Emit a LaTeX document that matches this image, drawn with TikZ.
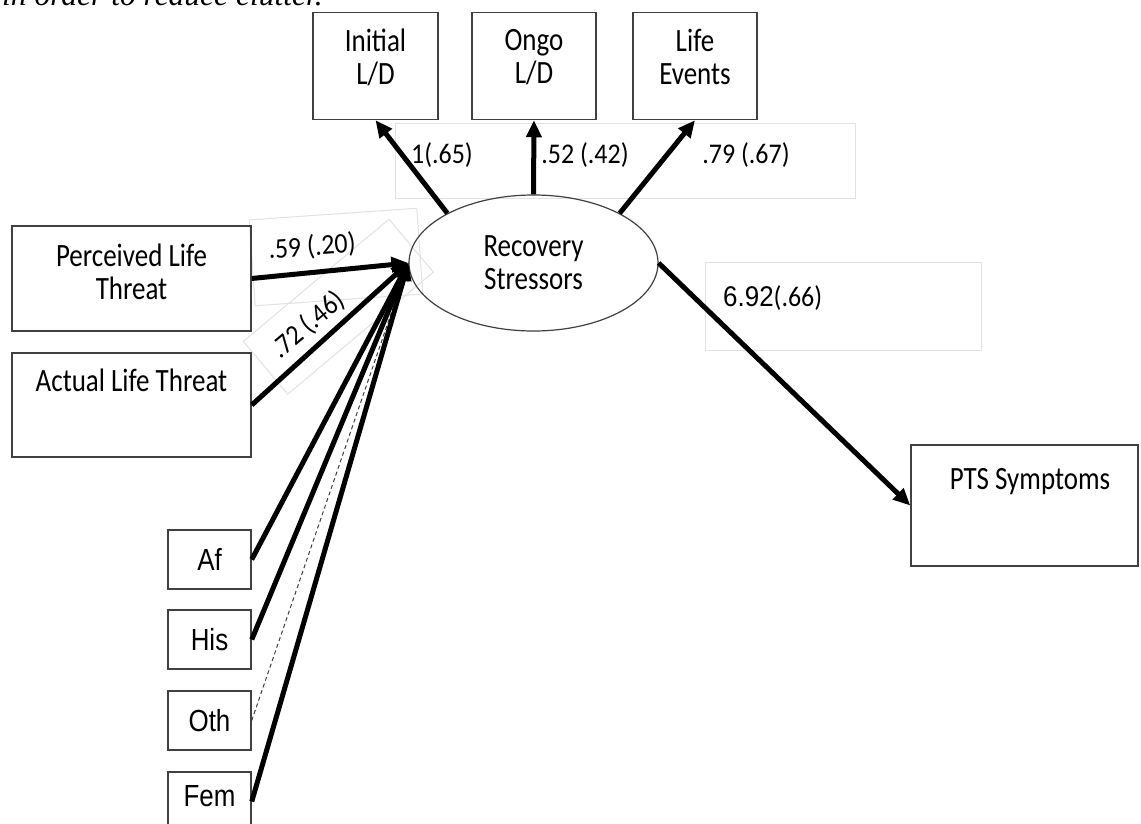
\documentclass[tikz,border=0pt]{standalone}
\usepackage{fontspec}
\setmainfont{Carlito}
\newfontfamily\calT[FakeStretch=0.83]{Carlito}
\newfontfamily\calL[FakeStretch=0.91]{Carlito}
\newfontfamily\arialT[FakeStretch=0.85]{Liberation Sans}
\newfontfamily\arialL[FakeStretch=0.91]{Liberation Sans}
\newfontfamily\timesf{Liberation Serif}
\usetikzlibrary{arrows.meta,shapes.geometric}
\definecolor{boxline}{HTML}{404040}
\definecolor{faintline}{HTML}{E2E2E2}
\begin{document}
\begin{tikzpicture}[x=1pt,y=-1pt,
  box/.style={draw=boxline,line width=1.5pt,rectangle,inner sep=0pt},
  txt/.style={font=\calT\fontsize{32.5}{33}\selectfont,align=center,inner sep=0pt},
  atxt/.style={font=\arialT\fontsize{30.5}{33}\selectfont,inner sep=0pt},
  lab/.style={font=\calL\fontsize{28.5}{30}\selectfont,inner sep=0pt},
  arr/.style={line width=5pt,-{Triangle[length=17pt,width=15pt]}},
  faint/.style={draw=faintline,line width=1pt}]
\useasboundingbox (0,0) rectangle (1141,824);
\clip (0,0) rectangle (1141,824);
\fill[white] (0,0) rectangle (1141,824);

% faint label frames
\draw[faint] (395,124) rectangle (855,198);
\draw[faint] (705,262) rectangle (981,350);
\draw[faint,rotate around={4:(336,257)}] (252,214) rectangle (420,300);
\draw[faint,rotate around={40:(308,325)}] (248,296) rectangle (438,365);

% caption (cut off at the top)
\node[anchor=base west,font=\timesf\itshape\fontsize{31.5}{36}\selectfont,inner sep=0pt] (cap) at (2,6) {in order to reduce clutter.};

% indicator boxes
\node[box,minimum width=125pt,minimum height=107pt] (init) at (375.5,66) {};
\node[txt] (initT) at (375.5,57) {Initial\\L/D};
\node[box,minimum width=124pt,minimum height=107pt] (ongo) at (534,66) {};
\node[txt] (ongoT) at (534,57) {Ongo\\L/D};
\node[box,minimum width=124pt,minimum height=107pt] (life) at (695,66) {};
\node[txt] (lifeT) at (695,57) {Life\\Events};

% latent
\node[ellipse,draw=boxline,line width=1.2pt,minimum width=249pt,minimum height=136pt,inner sep=0pt,txt] (rs) at (533.5,263) {Recovery\\Stressors};

% predictors
\node[box,minimum width=239pt,minimum height=105pt] (perc) at (131.5,278.5) {};
\node[txt] (percT) at (131.5,272) {Perceived Life\\Threat};
\node[box,minimum width=239pt,minimum height=104pt] (act) at (131.5,405) {};
\node[txt] (actT) at (131.5,380) {Actual Life Threat};

\node[box,minimum width=83pt,minimum height=59pt,atxt] (af) at (209.5,559.5) {Af};
\node[box,minimum width=83pt,minimum height=59pt,atxt] (his) at (209.5,639.5) {His};
\node[box,minimum width=83pt,minimum height=59pt,atxt] (oth) at (209.5,720.5) {Oth};
\node[box,minimum width=83pt,minimum height=59pt] (fem) at (209.5,801.5) {};
\node[atxt] (femT) at (209.5,796) {Fem};

% outcome
\node[box,minimum width=227pt,minimum height=121pt] (pts) at (1024.5,505.5) {};
\node[txt] (ptsT) at (1030,482) {PTS Symptoms};

% connectors
\coordinate (conv) at (rs.west);
\draw[arr] (rs.150) -- (init.south);
\draw[arr] (rs.north) -- (ongo.south);
\draw[arr] (rs.30) -- (life.south);
\draw[arr] (perc.east) -- (conv);
\draw[arr] (act.east) -- (conv);
\draw[arr] (af.east) -- (conv);
\draw[arr] (his.east) -- (conv);
\draw[line width=1pt,draw=boxline,dash pattern=on 4pt off 3pt] (oth.east) -- (conv);
\draw[arr] (fem.east) -- (conv);
\draw[arr] (rs.east) -- (pts.west);

% path labels
\node[lab] (l1) at (442,155) {1(.65)};
\node[lab] (l2) at (585,155) {.52 (.42)};
\node[lab] (l3) at (746,155) {.79 (.67)};
\node[lab,rotate=4] (l4) at (312,247) {.59 (.20)};
\node[lab,rotate=40] (l5) at (308,325) {.72 (.46)};
\node[inner sep=0pt,anchor=west] (l6) at (723,298) {{\arialL\fontsize{28.5}{30}\selectfont 6.92}{\calL\fontsize{28.5}{30}\selectfont(.66)}};
\end{tikzpicture}
\end{document}
